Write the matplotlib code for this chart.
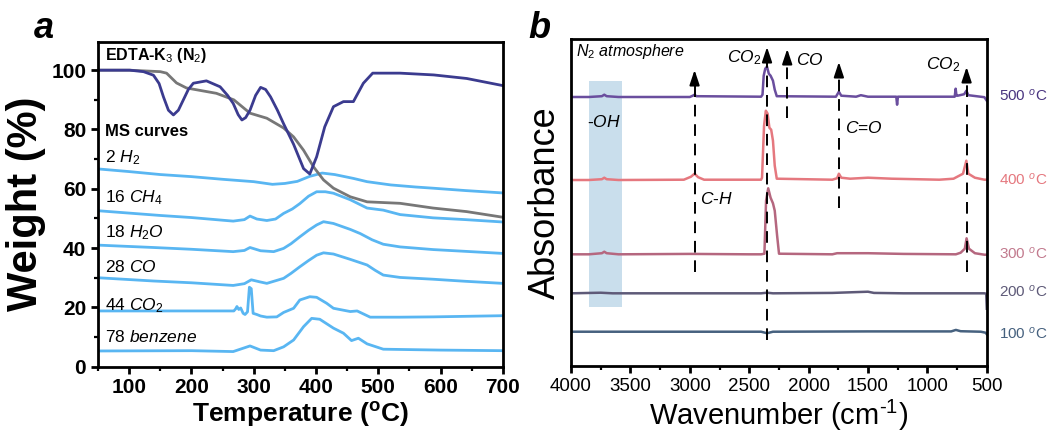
import matplotlib
matplotlib.use("Agg")
import matplotlib.pyplot as plt
from matplotlib.ticker import MultipleLocator

plt.rcParams["font.family"] = ["Liberation Sans", "DejaVu Sans"]
plt.rcParams["mathtext.fontset"] = "custom"
plt.rcParams["mathtext.rm"] = "Liberation Sans"
plt.rcParams["mathtext.it"] = "Liberation Sans:italic"
plt.rcParams["mathtext.bf"] = "Liberation Sans:bold"

# ---- panel a: TG / DTG / MS ----
T_tg = [50, 100, 150, 160, 176, 192, 240, 268, 294, 321, 348, 364, 380, 396, 412, 428, 455, 482, 535, 588, 642, 700]
W_tg = [100, 100, 99.5, 99, 95.7, 94, 92.2, 90, 85.5, 83.8, 80.5, 77.5, 73, 67.4, 63, 60.2, 57.3, 55.6, 55.1, 53.5, 52.3, 50.4]

T_dtg = [50, 101, 123, 139, 148, 155, 163, 171, 179, 187, 195, 203, 224, 246, 258, 267, 275, 281, 287, 294, 303, 311,
         319, 327, 338, 348, 364, 380, 390, 401, 414, 428, 444, 460, 476, 491, 535, 589, 642, 700]
W_dtg = [100, 100, 99.5, 98.3, 95.5, 91, 86.5, 84.9, 86.5, 90, 93.5, 95.6, 96.4, 94.4, 91.5, 88.8, 85, 83.2, 84, 86.5, 91.5, 94.2,
         93.5, 91, 86.5, 81.9, 75, 66.8, 65, 70.8, 80.9, 87.7, 89.4, 89.4, 95.6, 99, 99, 98.4, 97.2, 94.8]

T_h2 = [50, 100, 150, 200, 250, 300, 330, 350, 370, 390, 410, 430, 460, 482, 520, 560, 588, 640, 700]
I_h2 = [66.7, 65.8, 64.8, 64.1, 63.2, 62.4, 61.5, 61.8, 62.5, 64.2, 65.3, 64.8, 63.5, 62.4, 61.3, 60.6, 60.2, 59.4, 58.6]

T_ch4 = [50, 100, 150, 200, 250, 267, 285, 294, 305, 321, 335, 348, 362, 374, 388, 401, 415, 428, 455, 482, 508, 535, 588, 640, 700]
I_ch4 = [52.6, 51.8, 51, 50.3, 49.4, 49.1, 49.6, 50.8, 49.8, 49.3, 49.8, 51.7, 53.2, 55, 57.5, 59, 59, 58.5, 56.3, 53.5, 52.8, 51.3, 50.2, 49.6, 48.8]

T_h2o = [50, 139, 200, 267, 285, 294, 311, 332, 348, 360, 374, 388, 401, 412, 428, 455, 471, 490, 508, 535, 588, 640, 700]
I_h2o = [41, 40.2, 39.6, 38.8, 39.2, 40.2, 39.1, 38.8, 39.9, 41.5, 43.8, 46, 47.8, 48.9, 48.3, 46.3, 44.9, 42.8, 41.3, 40.4, 39.5, 38.9, 38.2]

T_co = [50, 139, 200, 267, 285, 296, 310, 321, 348, 360, 374, 388, 401, 412, 428, 455, 482, 495, 508, 535, 588, 640, 700]
I_co = [30, 28.9, 28.3, 27.4, 28, 29.3, 28.6, 28.1, 29.8, 31.5, 33.7, 35.8, 37.6, 38.4, 38, 36.2, 34.3, 32.5, 30.9, 30.1, 29.5, 28.8, 28.1]

T_co2 = [50, 150, 268, 271, 273, 276, 279, 283, 286, 290, 293, 296, 299, 305, 311, 321, 337, 348, 364, 374, 390, 401,
         417, 428, 455, 466, 471, 487, 535, 588, 700]
I_co2 = [18.8, 18.8, 18.8, 19.5, 20.3, 19.3, 19.8, 18.0, 17.6, 18.5, 26.8, 26.3, 18.0, 17.6, 17.1, 16.7, 16.8, 18.3, 19.7, 22.5, 23.6, 23.4,
         21.4, 19.7, 18.6, 18.8, 18.3, 16.7, 16.7, 16.8, 17.2]

T_bz = [50, 200, 267, 294, 311, 332, 348, 364, 380, 393, 406, 428, 444, 457, 468, 482, 508, 600, 700]
I_bz = [5.3, 5.4, 5.1, 7.0, 5.6, 5.4, 6.7, 9.0, 13.5, 16.3, 16.0, 13.0, 11.3, 8.8, 9.6, 7.7, 5.9, 5.6, 5.4]

ms_labels = [r"2 $H_2$", r"16 $CH_4$", r"18 $H_2O$", r"28 $CO$", r"44 $CO_2$", r"78 $benzene$"]
ms_label_y = [70.4, 56.9, 45.1, 33.6, 20.5, 10]

# ---- panel b: in-situ IR ----
wn_500 = [4000, 3850, 3740, 3720, 3700, 3600, 3000, 2975, 2960, 2945, 2400, 2388, 2378, 2365, 2350, 2335, 2320, 2300, 2285, 2268,
          1770, 1745, 1725, 1600, 1560, 1500, 1262, 1255, 1248, 770, 762, 755, 745, 690, 672, 655, 520, 500]
ab_500 = [268.7, 268.7, 269.5, 271, 269.5, 268.7, 268.7, 270, 271, 269.5, 269, 271, 290, 297, 299, 292, 290, 285, 276, 269.5,
          269, 274, 270, 269, 270.5, 269, 269, 261, 269, 269, 277, 270, 270, 271.5, 275, 270.5, 268.5, 265]

wn_400 = [4000, 3850, 3740, 3720, 3700, 3600, 3050, 2990, 2960, 2930, 2880, 2400, 2392, 2375, 2360, 2345, 2330, 2315, 2300, 2285, 2268,
          1800, 1760, 1745, 1725, 1650, 1500, 1300, 900, 780, 700, 672, 655, 600, 520, 500]
ab_400 = [185.7, 185.7, 186.5, 188, 186.5, 185.7, 186, 189, 192, 188.5, 186, 186, 188, 240, 255, 252, 238, 236, 225, 200, 187,
          186, 187.5, 192, 188, 187, 188, 187, 186, 187, 192, 205, 192, 188, 186, 186]

wn_300 = [4000, 3850, 3740, 3720, 3700, 3600, 3000, 2500, 2400, 2372, 2358, 2340, 2320, 2300, 2285, 2265, 2249,
          1800, 1760, 1500, 1200, 760, 720, 685, 670, 650, 600, 520, 500]
ab_300 = [111.4, 111.4, 112.5, 114, 112.5, 111.4, 111.8, 111.4, 111.4, 112, 165, 177.4, 168, 162.4, 155, 130, 112,
          111.4, 112.5, 112.5, 111.8, 111.4, 113, 117, 127.4, 117, 112.5, 111, 111]

wn_200 = [4000, 3750, 3650, 2400, 2350, 2300, 1800, 1500, 1450, 1200, 520, 505, 500]
ab_200 = [72.4, 73, 72.4, 72.4, 73, 72.4, 72.8, 74, 72.8, 72.4, 72.4, 72, 57]

wn_100 = [4000, 3000, 2400, 2350, 2300, 1500, 800, 760, 720, 550, 510, 500]
ab_100 = [34, 34, 34, 32.5, 34, 34.3, 34.3, 35.8, 34.5, 34, 33, 31.5]

spec_labels = ["500 $^{o}$C", "400 $^{o}$C", "300 $^{o}$C", "200 $^{o}$C", "100 $^{o}$C"]
spec_label_y = [269.7, 185.7, 111.7, 73.7, 31.7]
spec_colors = ["#6A4E9E", "#E5787F", "#B5677F", "#5E5A78", "#46617F"]
spec_label_colors = ["#4A3580", "#E5787F", "#C27A8E", "#5E5A78", "#46617F"]

# dashed marker lines: wavenumber, bottom, arrow top
mark_wn = [2960, 2350, 2180, 1745, 670]
mark_bot = [93.7, 25.7, 247.7, 157.7, 93.7]
mark_top = [295.7, 318.7, 316.7, 303.7, 298.7]

BLUE = "#59B6F2"

fig = plt.figure(figsize=(10.52, 4.41), dpi=100)
ax1 = fig.add_axes([0.0932, 0.1685, 0.3848, 0.7369])
ax2 = fig.add_axes([0.5428, 0.1707, 0.3952, 0.7402])

for ax in (ax1, ax2):
    for s in ax.spines.values():
        s.set_linewidth(2.0)
    ax.tick_params(which="major", direction="out", width=2.0, length=5)
    ax.tick_params(which="minor", direction="out", width=1.6, length=3)

# panel a
for T, I in [(T_h2, I_h2), (T_ch4, I_ch4), (T_h2o, I_h2o), (T_co, I_co), (T_co2, I_co2), (T_bz, I_bz)]:
    ax1.plot(T, I, color=BLUE, lw=2.0)
ax1.plot(T_tg, W_tg, color="#777777", lw=2.0)
ax1.plot(T_dtg, W_dtg, color="#3B3B8F", lw=2.0)

ax1.set_xlim(50, 700)
ax1.set_ylim(0, 109.6)
ax1.xaxis.set_major_locator(MultipleLocator(100))
ax1.xaxis.set_minor_locator(MultipleLocator(50))
ax1.yaxis.set_major_locator(MultipleLocator(20))
ax1.yaxis.set_minor_locator(MultipleLocator(10))
for lab in ax1.get_xticklabels() + ax1.get_yticklabels():
    lab.set_fontweight("bold")
    lab.set_fontsize(15)
ax1.set_xlabel(r"Temperature ($\mathbf{^{o}}$C)", fontsize=19, fontweight="bold", labelpad=2)
ax1.set_ylabel("Weight (%)", fontsize=30, fontweight="bold", labelpad=4)

ax1.text(61, 105, r"EDTA-K$_{3}$ (N$_{2}$)", fontsize=11.5, fontweight="bold", va="center")
ax1.text(61, 79.4, "MS curves", fontsize=12, fontweight="bold", va="center")
for lab, y in zip(ms_labels, ms_label_y):
    ax1.text(61, y, lab, fontsize=12.5, va="center")
fig.text(0.032, 0.935, "a", fontsize=26, fontweight="bold", style="italic", va="center")

# panel b
ax2.axvspan(3846, 3568, ymin=58.4 / 326.4, ymax=284.7 / 326.4, color="#C9DEEC", lw=0, zorder=0)
for wn, ab, c in [(wn_500, ab_500, spec_colors[0]), (wn_400, ab_400, spec_colors[1]), (wn_300, ab_300, spec_colors[2]),
                  (wn_200, ab_200, spec_colors[3]), (wn_100, ab_100, spec_colors[4])]:
    ax2.plot(wn, ab, color=c, lw=1.8, zorder=2)

for x, yb, yt in zip(mark_wn, mark_bot, mark_top):
    ax2.plot([x, x], [yb, yt - 12], color="black", lw=1.4, ls=(0, (6, 4)), zorder=3)
    ax2.annotate("", xy=(x, yt), xytext=(x, yt - 13),
                 arrowprops=dict(arrowstyle="-|>,head_length=0.9,head_width=0.3", color="black",
                                 lw=1.4, shrinkA=0, shrinkB=0), zorder=3)

ax2.set_xlim(4000, 500)
ax2.set_ylim(0, 326.4)
ax2.xaxis.set_major_locator(MultipleLocator(500))
ax2.xaxis.set_minor_locator(MultipleLocator(250))
ax2.set_yticks([])
for lab in ax2.get_xticklabels():
    lab.set_fontsize(13.5)
ax2.set_xlabel(r"Wavenumber (cm$^{\text{-}1}$)", fontsize=21, labelpad=2)
ax2.set_ylabel("Absorbance", fontsize=26, labelpad=6)

ax2.text(3960, 313.7, r"$N_2$ atmosphere", fontsize=11.5, style="italic", va="center")
ax2.text(2400, 307.7, r"$CO_2$", fontsize=12.5, ha="right", va="center")
ax2.text(2110, 305.7, r"$CO$", fontsize=12.5, ha="left", va="center")
ax2.text(720, 300.7, r"$CO_2$", fontsize=12.5, ha="right", va="center")
ax2.text(3722, 243.7, r"$\text{-}OH$", fontsize=12.5, ha="center", va="center")
ax2.text(1693, 237.7, r"$C\text{=}O$", fontsize=12.5, ha="left", va="center")
ax2.text(2914, 166.7, r"$C\text{-}H$", fontsize=12.5, ha="left", va="center")

trans = ax2.get_yaxis_transform()
for lab, y, c in zip(spec_labels, spec_label_y, spec_label_colors):
    ax2.text(1.03, y, lab, transform=trans, fontsize=11, color=c, va="center")
fig.text(0.502, 0.935, "b", fontsize=26, fontweight="bold", style="italic", va="center")

fig.savefig("out.png", dpi=100)
